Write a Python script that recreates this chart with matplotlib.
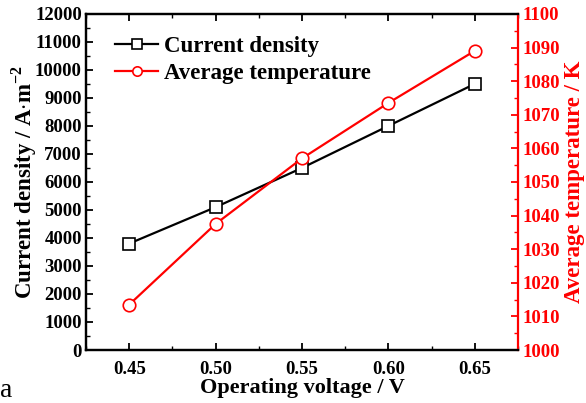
import matplotlib
matplotlib.use("Agg")
import matplotlib.pyplot as plt
from matplotlib.ticker import MultipleLocator

plt.rcParams['font.family'] = ['Liberation Serif', 'DejaVu Serif']
plt.rcParams['font.weight'] = 'bold'
plt.rcParams['mathtext.fontset'] = 'custom'
plt.rcParams['mathtext.rm'] = 'Liberation Serif:bold'
plt.rcParams['mathtext.bf'] = 'Liberation Serif:bold'

voltage = [0.45, 0.50, 0.55, 0.60, 0.65]
current_density = [3800, 5100, 6500, 8000, 9500]
avg_temperature = [1013.5, 1037.5, 1057.0, 1073.5, 1089.0]

fig = plt.figure(figsize=(5.86, 4.03), dpi=100)
ax = fig.add_axes([0.1468, 0.1315, 0.737, 0.834])
ax2 = ax.twinx()

l1, = ax.plot(voltage, current_density, color='black', lw=1.6, marker='s',
              ms=9, mfc='white', mec='black', mew=1.2, label='Current density')
l2, = ax2.plot(voltage, avg_temperature, color='red', lw=1.6, marker='o',
               ms=9, mfc='white', mec='red', mew=1.2, label='Average temperature')

ax.set_xlim(0.425, 0.675)
ax.set_ylim(0, 12000)
ax2.set_ylim(1000, 1100)

ax.xaxis.set_major_locator(MultipleLocator(0.05))
ax.xaxis.set_minor_locator(MultipleLocator(0.025))
ax.yaxis.set_major_locator(MultipleLocator(1000))
ax.yaxis.set_minor_locator(MultipleLocator(500))
ax2.yaxis.set_major_locator(MultipleLocator(10))
ax2.yaxis.set_minor_locator(MultipleLocator(5))
ax.xaxis.set_major_formatter(plt.FormatStrFormatter('%.2f'))

ax.tick_params(axis='x', which='both', direction='in', top=True, labelsize=13.5, pad=8)
ax.tick_params(axis='x', which='major', length=5, width=1.3)
ax.tick_params(axis='x', which='minor', length=3, width=1.0)
ax.tick_params(axis='y', which='both', direction='in', labelsize=13.5, pad=3)
ax.tick_params(axis='y', which='major', length=5, width=1.3)
ax.tick_params(axis='y', which='minor', length=3, width=1.0)
ax2.tick_params(axis='y', which='both', direction='in', colors='red', labelsize=13.5, pad=3)
ax2.tick_params(axis='y', which='major', length=5, width=1.3)
ax2.tick_params(axis='y', which='minor', length=3, width=1.0)

for s in ['left', 'bottom', 'top']:
    ax.spines[s].set_linewidth(1.6)
    ax2.spines[s].set_linewidth(1.6)
ax2.spines['right'].set_color('red')
ax2.spines['right'].set_linewidth(1.6)
ax.spines['right'].set_visible(False)

ax.set_xlabel('Operating voltage / V', fontsize=16, fontweight='bold', labelpad=0)
ax.set_ylabel('Current density / A$\\cdot$m$^{-2}$', fontsize=16.5, fontweight='bold', labelpad=-3)
ax2.set_ylabel('Average temperature / K', fontsize=16.5, fontweight='bold', color='red', labelpad=3)

leg = ax.legend(handles=[l1, l2], loc='upper left', bbox_to_anchor=(0.019, 0.997),
                frameon=False, fontsize=16.5, handlelength=1.9, handletextpad=0.25,
                labelspacing=0.3, borderaxespad=0.5, markerscale=0.75)

fig.text(0.0, 0.015, 'a', fontsize=20, fontweight='normal')

fig.savefig('out.png', dpi=100)
